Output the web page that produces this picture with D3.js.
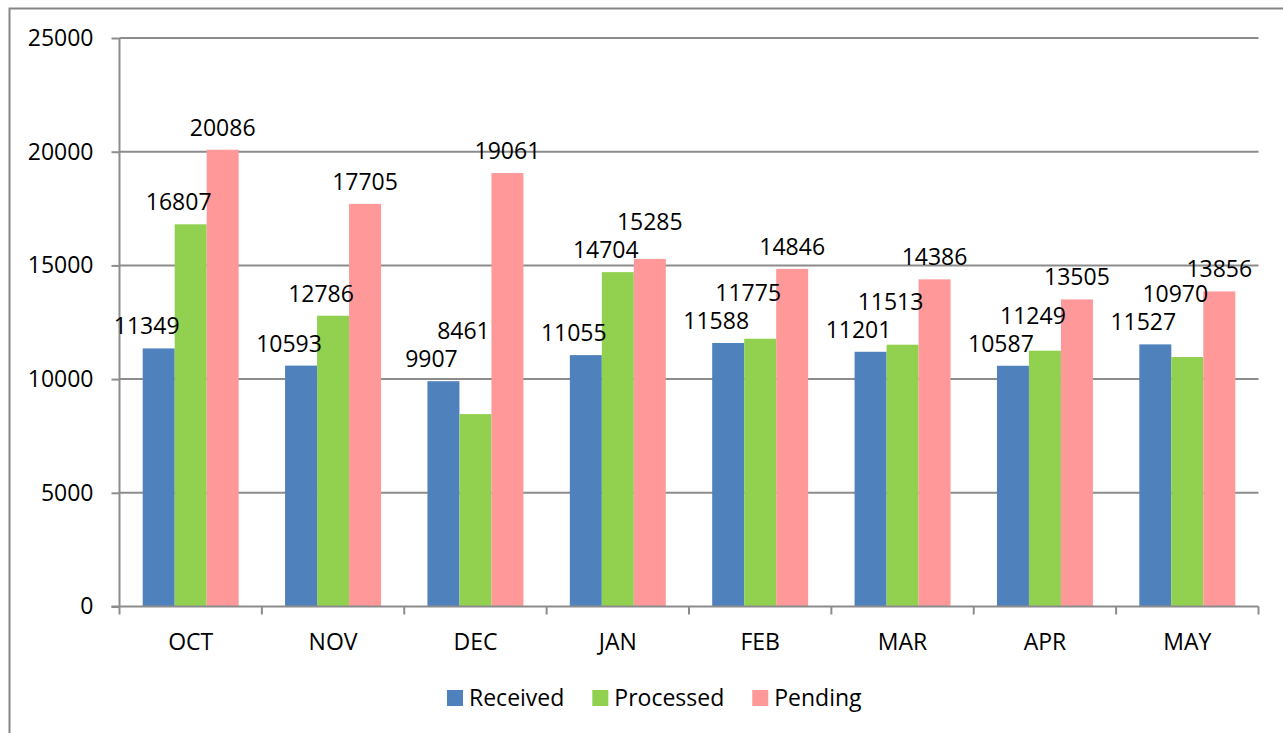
<!DOCTYPE html>
<html>
<head>
<meta charset="utf-8">
<script src="https://cdn.jsdelivr.net/npm/d3@7"></script>
<style>
    body { margin: 0; background: #fff; }
    text { font-family: "Open Sans", sans-serif; fill: #000; }
</style>
</head>
<body>
<svg width="1283" height="733"></svg>
<script>
// chart data
var months = ["OCT", "NOV", "DEC", "JAN", "FEB", "MAR", "APR", "MAY"];
var seriesNames = ["Received", "Processed", "Pending"];
var received = [11349, 10593, 9907, 11055, 11588, 11201, 10587, 11527];
var processed = [16807, 12786, 8461, 14704, 11775, 11513, 11249, 10970];
var pending = [20086, 17705, 19061, 15285, 14846, 14386, 13505, 13856];
var yTicks = [0, 5000, 10000, 15000, 20000, 25000];

var colors = ["#4f81bd", "#92d050", "#ff9999"];
var labelDx = [-12, -12, 0];

var svg = d3.select("svg"),
    margin = { top: 38, left: 119.5, right: 24.5, bottom: 126.5 },
    width = +svg.attr("width") - margin.left - margin.right,
    height = +svg.attr("height") - margin.top - margin.bottom;

// outer chart border (right and bottom edges fall outside the picture)
svg.append("rect")
    .attr("x", 9.5)
    .attr("y", 8.5)
    .attr("width", 1300)
    .attr("height", 760)
    .attr("fill", "none")
    .attr("stroke", "#868686")
    .attr("stroke-width", 2);

var x0 = d3.scaleBand().domain(months).range([0, width]),
    x1 = d3.scaleBand().domain(seriesNames).range([0, x0.bandwidth()]).paddingOuter(0.725),
    y = d3.scaleLinear().domain([0, 25000]).range([height, 0]);

var g = svg.append("g")
    .attr("transform", "translate(" + margin.left + "," + margin.top + ")");

// gridlines
g.append("g")
    .selectAll("line")
    .data(yTicks.slice(1))
    .enter().append("line")
    .attr("x1", 0)
    .attr("x2", width)
    .attr("y1", function (d) { return y(d); })
    .attr("y2", function (d) { return y(d); })
    .attr("stroke", "#8c8c8c")
    .attr("stroke-width", 2);

var data = months.map(function (m, i) {
    return { month: m, values: [received[i], processed[i], pending[i]] };
});

// bars
var groups = g.selectAll(".group")
    .data(data)
    .enter().append("g")
    .attr("class", "group")
    .attr("transform", function (d) { return "translate(" + x0(d.month) + ",0)"; });

groups.selectAll("rect")
    .data(function (d) {
        return d.values.map(function (v, k) { return { key: seriesNames[k], value: v, k: k }; });
    })
    .enter().append("rect")
    .attr("x", function (d) { return x1(d.key); })
    .attr("y", function (d) { return y(d.value); })
    .attr("width", x1.bandwidth())
    .attr("height", function (d) { return height - y(d.value); })
    .attr("fill", function (d) { return colors[d.k]; });

// y axis
var yAxis = g.append("g")
    .call(d3.axisLeft(y).tickValues(yTicks).tickSize(8).tickPadding(18).tickFormat(d3.format("d")));
yAxis.select(".domain").attr("stroke", "#8c8c8c").attr("stroke-width", 2).attr("d", "M0," + height + "V0");
yAxis.selectAll(".tick line").attr("stroke", "#8c8c8c").attr("stroke-width", 2);
yAxis.selectAll(".tick text").attr("font-size", "23px").attr("font-family", "Open Sans").attr("fill", "#000");

// x axis line and boundary ticks
g.append("line")
    .attr("x1", -8).attr("x2", width)
    .attr("y1", height).attr("y2", height)
    .attr("stroke", "#8c8c8c").attr("stroke-width", 2);

var bounds = months.map(function (m) { return x0(m); }).concat([width]);
g.append("g").selectAll("line")
    .data(bounds)
    .enter().append("line")
    .attr("x1", function (d) { return d; })
    .attr("x2", function (d) { return d; })
    .attr("y1", height)
    .attr("y2", height + 8)
    .attr("stroke", "#8c8c8c").attr("stroke-width", 2);

g.append("g").selectAll("text")
    .data(months)
    .enter().append("text")
    .attr("x", function (d) { return x0(d) + x0.bandwidth() / 2; })
    .attr("y", height + 43)
    .attr("text-anchor", "middle")
    .attr("font-size", "23px")
    .text(function (d) { return d; });

// data labels: above each bar, lifted when they would sit on an earlier label or bar
var capH = 17, gap = 14, pad = 11, minOverlap = 8;
data.forEach(function (d) {
    var placed = [];
    var barBoxes = d.values.map(function (v, k) {
        var bx = x0(d.month) + x1(seriesNames[k]);
        return { x1: bx, x2: bx + x1.bandwidth(), top: y(v), bottom: height };
    });
    d.values.forEach(function (v, k) {
        var cx = barBoxes[k].x1 + x1.bandwidth() / 2 + labelDx[k];
        var t = g.append("text")
            .attr("text-anchor", "middle")
            .attr("font-size", "23px")
            .attr("x", cx)
            .text(v);
        var w = t.node().getComputedTextLength();
        var lx1 = cx - w / 2, lx2 = cx + w / 2;
        var base = y(v) - gap;
        var obstacles = placed.concat(barBoxes.slice(0, k));
        var moved = true;
        while (moved) {
            moved = false;
            obstacles.forEach(function (o) {
                var ox = Math.min(lx2, o.x2) - Math.max(lx1, o.x1);
                if (ox > minOverlap && base - capH < o.bottom && base > o.top) {
                    base = o.top - pad;
                    moved = true;
                }
            });
        }
        t.attr("y", base);
        placed.push({ x1: lx1, x2: lx2, top: base - capH, bottom: base });
    });
});

// legend
var legend = svg.append("g").attr("transform", "translate(447,698)");
var lx = 0;
seriesNames.forEach(function (name, k) {
    legend.append("rect")
        .attr("x", lx).attr("y", -8)
        .attr("width", 16).attr("height", 16)
        .attr("fill", colors[k]);
    var t = legend.append("text")
        .attr("x", lx + 22)
        .attr("y", 8)
        .attr("font-size", "23px")
        .text(name);
    lx += 22 + t.node().getComputedTextLength() + 28;
});
</script>
</body>
</html>
